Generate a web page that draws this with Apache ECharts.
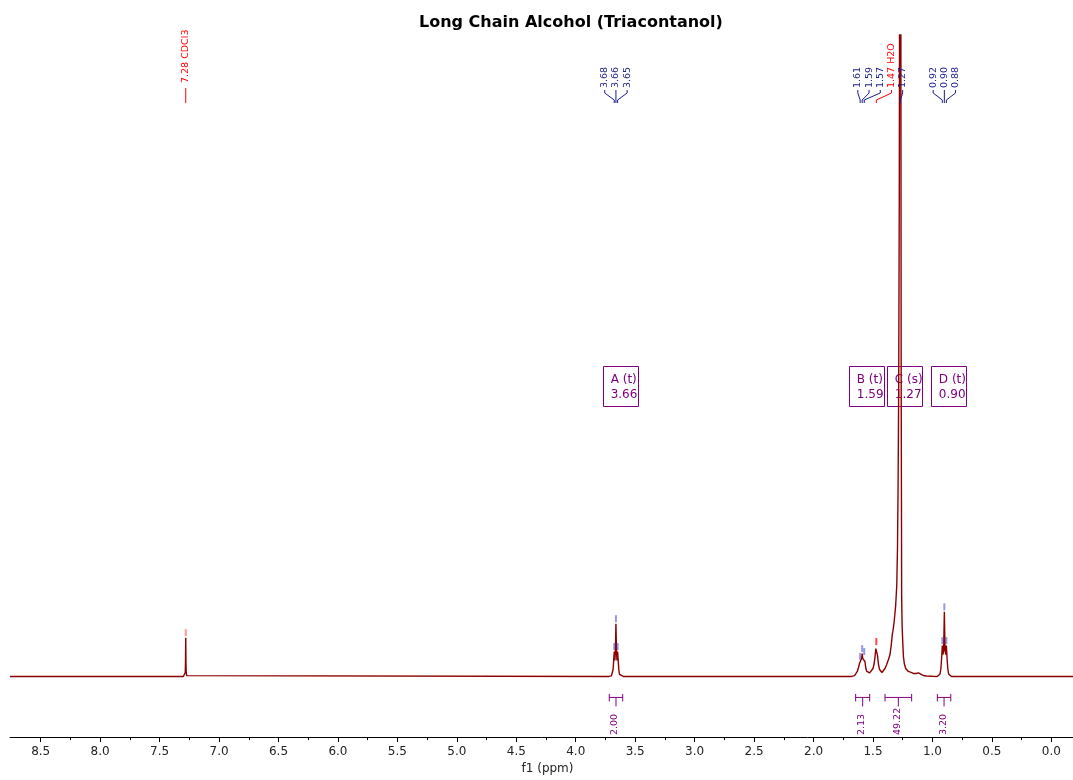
<!DOCTYPE html>
<html>
<head>
<meta charset="utf-8">
<script src="https://cdn.jsdelivr.net/npm/echarts@6/dist/echarts.min.js"></script>
<style>html,body{margin:0;padding:0;background:#fff}#chart{width:1073px;height:780px}</style>
</head>
<body>
<div id="chart"></div>
<script>
// ---------------- data ----------------
const xTickValues = [0.0, 0.5, 1.0, 1.5, 2.0, 2.5, 3.0, 3.5, 4.0, 4.5, 5.0, 5.5, 6.0, 6.5, 7.0, 7.5, 8.0, 8.5];
const xMinorTickValues = [0.25, 0.75, 1.25, 1.75, 2.25, 2.75, 3.25, 3.75, 4.25, 4.75, 5.25, 5.75, 6.25, 6.75, 7.25, 7.75, 8.25];

// spectrum segments: [ppm, intensity]
const baselineLeft = [[8.758, 0], [7.32, 0]];
const peakCDCl3 = [[7.30, 0], [7.288, 0.8], [7.284, 4], [7.282, 14], [7.280, 39], [7.278, 14], [7.276, 4], [7.272, 0.8], [7.26, 0]];
const baselineMid1 = [[3.75, 0]];
const peakA = [[3.72, 0], [3.70, 0.5], [3.692, 2], [3.686, 7], [3.681, 16], [3.676, 25], [3.671, 16], [3.667, 24], [3.662, 53], [3.657, 24], [3.653, 16], [3.648, 25], [3.643, 16], [3.638, 7], [3.632, 2], [3.624, 0.5], [3.60, 0]];
const baselineMid2 = [[1.70, 0]];
const peakB = [[1.68, 0], [1.655, 0.8], [1.642, 2], [1.632, 5], [1.622, 9], [1.614, 13], [1.608, 15], [1.602, 13], [1.596, 18], [1.591, 23], [1.586, 18], [1.580, 17], [1.574, 20], [1.568, 15], [1.560, 8], [1.552, 5], [1.545, 3.5], [1.538, 3]];
const peakH2O = [[1.528, 3.5], [1.515, 5], [1.500, 8], [1.490, 13], [1.482, 21], [1.476, 28], [1.472, 30], [1.468, 28], [1.462, 21], [1.454, 12], [1.445, 7], [1.435, 5], [1.425, 4], [1.418, 4]];
const peakC = [[1.41, 5], [1.399, 8], [1.385, 12], [1.370, 17], [1.357, 22], [1.346, 32], [1.338, 42], [1.332, 46], [1.325, 52], [1.318, 60], [1.309, 72], [1.300, 92], [1.294, 130], [1.289, 190], [1.284, 290], [1.279, 480], [1.275, 800], [1.270, 1200], [1.266, 700], [1.263, 300], [1.259, 80], [1.255, 50], [1.250, 35], [1.244, 20], [1.237, 13], [1.225, 8], [1.212, 6], [1.203, 5], [1.180, 4], [1.161, 3], [1.140, 3], [1.125, 3.4], [1.118, 3.6], [1.110, 3], [1.095, 2], [1.077, 1], [1.05, 0.5], [1.00, 0.2], [0.96, 0]];
const peakD = [[0.945, 0.6], [0.936, 2.5], [0.929, 8], [0.923, 18], [0.917, 31], [0.912, 22], [0.906, 26], [0.900, 65], [0.894, 26], [0.888, 22], [0.883, 31], [0.877, 18], [0.871, 8], [0.864, 2.5], [0.855, 0.6], [0.84, 0]];
const baselineRight = [[-0.182, 0]];

// picked peaks
const peakPpm = [7.280, 3.676, 3.662, 3.648, 1.608, 1.591, 1.574, 1.472, 1.270, 0.917, 0.900, 0.883];
const peakTop = [39, 25, 53, 25, 15, 23, 20, 30, null, 31, 65, 31];
const peakNote = ['CDCl3', '', '', '', '', '', '', 'H2O', '', '', '', ''];

// integrals
const integralFrom = [3.718, 1.646, 1.399, 0.959];
const integralTo = [3.605, 1.528, 1.175, 0.846];
const integralValue = [2.00, 2.13, 49.22, 3.20];

// multiplets
const multipletName = ['A', 'B', 'C', 'D'];
const multipletType = ['t', 't', 's', 't'];
const multipletShift = [3.66, 1.59, 1.27, 0.90];

// ---------------- chart ----------------
const FONT = '"DejaVu Sans", Verdana, sans-serif';
const SPEC = '#8b0000';
const BLUE = '#1c1c8f';
const RED = '#ff0000';
const PURPLE = '#800080';

const spectrum = [].concat(baselineLeft, peakCDCl3, baselineMid1, peakA, baselineMid2, peakB, peakH2O, peakC, peakD, baselineRight);

const LABEL_GAP = 11.2;
function layoutLabels(api) {
  const xs = peakPpm.map(p => api.coord([p, 0])[0]);
  const order = peakPpm.map((p, i) => i).sort((a, b) => xs[a] - xs[b]);
  const clusters = [];
  let cur = [order[0]];
  for (let k = 1; k < order.length; k++) {
    if (Math.abs(peakPpm[order[k - 1]] - peakPpm[order[k]]) < 0.25) cur.push(order[k]);
    else { clusters.push(cur); cur = [order[k]]; }
  }
  clusters.push(cur);
  const lx = [], size = [];
  clusters.forEach(c => {
    const mid = (xs[c[0]] + xs[c[c.length - 1]]) / 2;
    c.forEach((idx, j) => { lx[idx] = mid + (j - (c.length - 1) / 2) * LABEL_GAP; size[idx] = c.length; });
  });
  return { xs, lx, size };
}

const markerData = [];
peakPpm.forEach((p, i) => {
  if (peakTop[i] != null) {
    markerData.push({ value: [p, peakTop[i]], itemStyle: { color: peakNote[i] === 'CDCl3' ? 'rgba(255,80,80,0.75)' : (peakNote[i] ? 'rgba(255,0,0,0.9)' : 'rgba(70,70,200,0.7)') } });
  }
});

const chart = echarts.init(document.getElementById('chart'), null, { renderer: 'canvas' });
chart.setOption({
  animation: false,
  backgroundColor: '#fff',
  title: {
    text: 'Long Chain Alcohol (Triacontanol)', left: 414, top: 10,
    textStyle: { fontSize: 16, fontWeight: 'bold', color: '#000', fontFamily: FONT }
  },
  grid: { left: 10, right: 0, top: 35, bottom: 39, containLabel: false },
  xAxis: [{
    type: 'value', inverse: true, min: -0.182, max: 8.758,
    axisLine: { show: true, onZero: false, lineStyle: { color: '#000', width: 1 } },
    axisTick: { show: true, customValues: xTickValues, length: 5, lineStyle: { color: '#000' } },
    axisLabel: { show: true, customValues: xTickValues, formatter: v => Number(v).toFixed(1), fontSize: 12, color: '#222', margin: 9, fontFamily: FONT },
    splitLine: { show: false },
    name: 'f1 (ppm)', nameLocation: 'middle', nameGap: 25,
    nameTextStyle: { fontSize: 12, color: '#222', fontFamily: FONT, padding: [0, 0, 0, 12] }
  }, {
    type: 'value', inverse: true, min: -0.182, max: 8.758, position: 'bottom', gridIndex: 0,
    axisLine: { show: false, onZero: false },
    axisTick: { show: true, customValues: xMinorTickValues, length: 3, lineStyle: { color: '#000' } },
    axisLabel: { show: false },
    splitLine: { show: false }
  }],
  yAxis: { type: 'value', min: -61, max: 645, show: false, splitLine: { show: false } },
  series: [
    {
      type: 'custom', name: 'multiplets', z: 1, clip: false,
      data: multipletShift.map((s, i) => [s, 0, i]),
      encode: { x: 0, y: 1 },
      renderItem: function (params, api) {
        const i = api.value(2);
        const cx = api.coord([api.value(0), 0])[0];
        const left = cx - 13;
        return {
          type: 'group', children: [
            { type: 'rect', shape: { x: Math.round(left) + 0.5, y: 366.5, width: 35, height: 40 }, style: { fill: '#fff', stroke: PURPLE, lineWidth: 1 } },
            { type: 'text', style: { x: left + 7.5, y: 380, text: multipletName[i] + ' (' + multipletType[i] + ')', fill: PURPLE, font: '12px ' + FONT, align: 'left', verticalAlign: 'middle' } },
            { type: 'text', style: { x: left + 7.5, y: 395, text: multipletShift[i].toFixed(2), fill: PURPLE, font: '12px ' + FONT, align: 'left', verticalAlign: 'middle' } }
          ]
        };
      }
    },
    {
      type: 'line', name: 'spectrum', z: 3, data: spectrum, showSymbol: false, symbol: 'none',
      sampling: null, clip: true, silent: true,
      lineStyle: { color: SPEC, width: 1.4 }
    },
    {
      type: 'scatter', name: 'peaks', z: 4, data: markerData,
      symbol: 'rect', symbolSize: [2, 7], symbolOffset: [0, -5], silent: true
    },
    {
      type: 'custom', name: 'peakLabels', z: 5, clip: false,
      data: peakPpm.map((p, i) => [p, 0, i]),
      encode: { x: 0, y: 1 },
      renderItem: function (params, api) {
        const i = api.value(2);
        const L = layoutLabels(api);
        const px = L.xs[i], lx = L.lx[i];
        const single = L.size[i] === 1;
        const color = peakNote[i] ? RED : BLUE;
        const text = peakPpm[i].toFixed(2) + (peakNote[i] ? ' ' + peakNote[i] : '');
        const children = [];
        if (single) {
          children.push({ type: 'line', shape: { x1: px, y1: 88, x2: px, y2: 103 }, style: { stroke: color, lineWidth: 1 } });
        } else {
          children.push({ type: 'polyline', shape: { points: [[lx, 90], [lx, 93], [px, 100], [px, 103]] }, style: { stroke: color, fill: null, lineWidth: 1 } });
        }
        children.push({ type: 'text', x: lx, y: single ? 83 : 88, rotation: Math.PI / 2, style: { x: 0, y: 0, text: text, fill: color, font: '9.5px ' + FONT, align: 'left', verticalAlign: 'middle' } });
        return { type: 'group', children: children };
      }
    },
    {
      type: 'custom', name: 'integrals', z: 5, clip: false,
      data: integralFrom.map((f, i) => [f, 0, i, integralTo[i]]),
      encode: { x: [0, 3], y: 1 },
      renderItem: function (params, api) {
        const i = api.value(2);
        const p1 = api.coord([integralFrom[i], 0]);
        const x1 = p1[0];
        const x2 = api.coord([integralTo[i], 0])[0];
        const yb = p1[1] + 21;
        const cx = (x1 + x2) / 2;
        const st = { stroke: PURPLE, lineWidth: 1 };
        return {
          type: 'group', children: [
            { type: 'line', shape: { x1: x1, y1: yb, x2: x2, y2: yb }, style: st },
            { type: 'line', shape: { x1: x1, y1: yb - 3.5, x2: x1, y2: yb + 4 }, style: st },
            { type: 'line', shape: { x1: x2, y1: yb - 3.5, x2: x2, y2: yb + 4 }, style: st },
            { type: 'line', shape: { x1: cx, y1: yb, x2: cx, y2: yb + 9 }, style: st },
            { type: 'text', x: cx - 1, y: 735, rotation: Math.PI / 2, style: { x: 0, y: 0, text: integralValue[i].toFixed(2), fill: PURPLE, font: '9.5px ' + FONT, align: 'left', verticalAlign: 'middle' } }
          ]
        };
      }
    }
  ]
});
</script>
</body>
</html>
